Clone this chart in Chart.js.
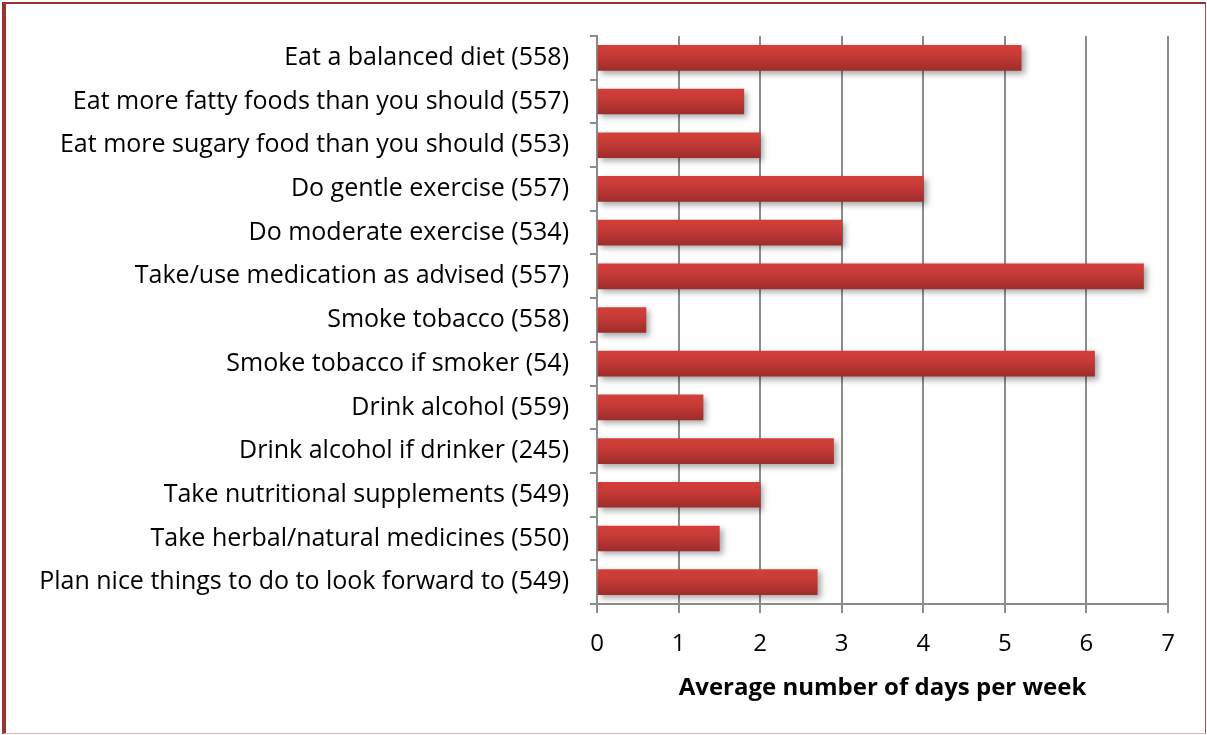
<!DOCTYPE html>
<html>
<head>
<meta charset="utf-8">
<script src="https://cdn.jsdelivr.net/npm/chart.js@4"></script>
<style>
  html, body { margin: 0; padding: 0; background: #fff; }
  #wrap { position: relative; width: 1207px; height: 735px; overflow: hidden; }
  #frame {
    position: absolute; left: 2px; top: 2px; width: 1199px; height: 729px;
    border-left: 4px solid #9b3431; border-top: 2px solid #9b3431;
    border-right: 1px solid #b04a47; border-bottom: 1px solid #e2b3b1;
    pointer-events: none;
  }
  canvas { position: absolute; left: 0; top: 0; }
</style>
</head>
<body>
<div id="wrap">
  <canvas id="grafik" width="1207" height="735"></canvas>
  <div id="frame"></div>
</div>
<script>
const kategori = [
  "Eat a balanced diet (558)",
  "Eat more fatty foods than you should (557)",
  "Eat more sugary food than you should (553)",
  "Do gentle exercise (557)",
  "Do moderate exercise (534)",
  "Take/use medication as advised (557)",
  "Smoke tobacco (558)",
  "Smoke tobacco if smoker (54)",
  "Drink alcohol (559)",
  "Drink alcohol if drinker (245)",
  "Take nutritional supplements (549)",
  "Take herbal/natural medicines (550)",
  "Plan nice things to do to look forward to (549)",
];
const rataHari = [5.2, 1.8, 2.0, 4.0, 3.0, 6.7, 0.6, 6.1, 1.3, 2.9, 2.0, 1.5, 2.7];
const tickHari = [0, 1, 2, 3, 4, 5, 6, 7];
const judulX = "Average number of days per week";

const fontLabel = "'Open Sans', 'Liberation Sans', sans-serif";

// gradasi merah per batang, atas terang bawah gelap
function warnaBatang(context) {
  const chart = context.chart;
  if (!chart.chartArea || context.dataIndex === undefined) return "#c23a36";
  const skalaY = chart.scales.y;
  const tengah = skalaY.getPixelForValue(context.dataIndex);
  const g = chart.ctx.createLinearGradient(0, tengah - 12.5, 0, tengah + 12.5);
  g.addColorStop(0, "#d23f3a");
  g.addColorStop(0.35, "#c93b37");
  g.addColorStop(1, "#9e2d2b");
  return g;
}

const bayangan = {
  id: "bayangan",
  beforeDatasetsDraw(chart) {
    const ctx = chart.ctx;
    ctx.save();
    ctx.shadowColor = "rgba(0,0,0,0.35)";
    ctx.shadowBlur = 6;
    ctx.shadowOffsetX = 3;
    ctx.shadowOffsetY = 3;
  },
  afterDatasetsDraw(chart) {
    chart.ctx.restore();
  },
};

const grafik = new Chart(document.getElementById("grafik").getContext("2d"), {
  type: "bar",
  data: {
    labels: kategori,
    datasets: [
      {
        data: rataHari,
        backgroundColor: warnaBatang,
        borderWidth: 0,
        barThickness: 25,
      },
    ],
  },
  plugins: [bayangan],
  options: {
    indexAxis: "y",
    responsive: false,
    animation: false,
    layout: { padding: { top: 31, right: 39, bottom: 0, left: 0 } },
    plugins: {
      legend: { display: false },
      tooltip: { enabled: false },
    },
    scales: {
      x: {
        min: 0,
        max: 7,
        afterBuildTicks(scale) {
          scale.ticks = tickHari.map((v) => ({ value: v }));
        },
        afterFit(scale) {
          scale.height = 131;
        },
        grid: {
          color: "#8c8c8c",
          lineWidth: 2,
          tickLength: 9,
        },
        border: { color: "#8c8c8c", width: 2 },
        ticks: {
          color: "#000",
          padding: 17,
          font: { family: fontLabel, size: 24 },
        },
        title: {
          display: true,
          text: judulX,
          color: "#000",
          padding: { top: 4, bottom: 32 },
          font: { family: fontLabel, size: 24, weight: "bold" },
        },
      },
      y: {
        afterFit(scale) {
          scale.width = 597;
        },
        grid: {
          drawOnChartArea: false,
          offset: true,
          color: "#8c8c8c",
          lineWidth: 2,
          tickLength: 7,
        },
        border: { color: "#8c8c8c", width: 2 },
        ticks: {
          color: "#000",
          padding: 21,
          autoSkip: false,
          font: { family: fontLabel, size: 25 },
        },
      },
    },
  },
});
</script>
</body>
</html>
